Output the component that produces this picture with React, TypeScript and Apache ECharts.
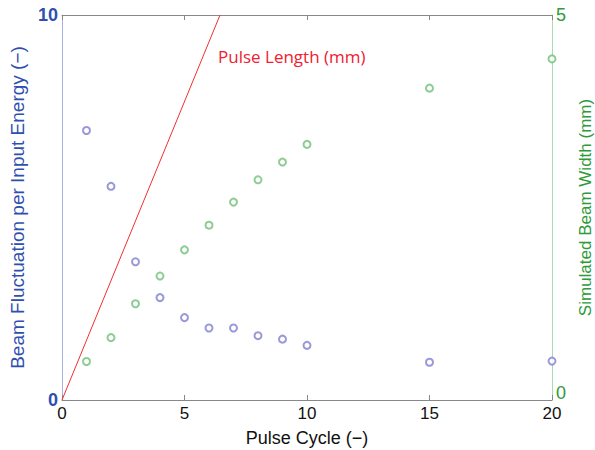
import React, { useEffect, useRef } from "react";
import * as echarts from "echarts";

const cycles = [1, 2, 3, 4, 5, 6, 7, 8, 9, 10, 15, 20];
const fluctuation = [7.0, 5.55, 3.59, 2.66, 2.14, 1.87, 1.87, 1.67, 1.58, 1.42, 0.98, 1.01];
const beamWidth = [0.5, 0.81, 1.25, 1.61, 1.95, 2.27, 2.57, 2.86, 3.09, 3.32, 4.05, 4.43];
const pulseLength: [number, number][] = [[0, 0], [6.45, 10]];

export default function App() {
  const ref = useRef<HTMLDivElement>(null);
  useEffect(() => {
    if (!ref.current) return;
    const chart = echarts.init(ref.current, undefined, { renderer: "svg" });
    const font = "Liberation Sans, Arial, sans-serif";
    chart.setOption({
      animation: false,
      backgroundColor: "#ffffff",
      grid: { left: 62, right: 43, top: 15, bottom: 50, containLabel: false, outerBoundsMode: "none" },
      xAxis: [
        {
          type: "value",
          min: 0,
          max: 20,
          interval: 5,
          position: "bottom",
          name: "Pulse Cycle (\u2212)",
          nameLocation: "middle",
          nameGap: 29,
          nameTextStyle: { color: "#111", fontSize: 18, fontFamily: font },
          axisLine: { show: true, onZero: false, lineStyle: { color: "#888", width: 1 } },
          axisTick: { show: true, inside: true, length: 5, lineStyle: { color: "#888" } },
          axisLabel: { color: "#111", fontSize: 17, fontFamily: font, margin: 5 },
          splitLine: { show: false },
        },
        {
          type: "value",
          min: 0,
          max: 20,
          interval: 5,
          position: "top",
          axisLine: { show: true, onZero: false, lineStyle: { color: "#888", width: 1 } },
          axisTick: { show: true, inside: true, length: 5, lineStyle: { color: "#888" } },
          axisLabel: { show: false },
          splitLine: { show: false },
        },
      ],
      yAxis: [
        {
          type: "value",
          min: 0,
          max: 10,
          interval: 10,
          position: "left",
          name: "Beam Fluctuation per Input Energy (\u2212)",
          nameLocation: "middle",
          nameGap: 27,
          nameTextStyle: { color: "#2f4fb0", fontSize: 19, fontFamily: font },
          axisLine: { show: true, onZero: false, lineStyle: { color: "#a8b0e8", width: 1 } },
          axisTick: { show: false },
          axisLabel: { color: "#2f4fb0", fontSize: 18, fontWeight: "bold", fontFamily: font, margin: 4 },
          splitLine: { show: false },
        },
        {
          type: "value",
          min: 0,
          max: 5,
          interval: 5,
          position: "right",
          name: "Simulated Beam Width (mm)",
          nameLocation: "middle",
          nameGap: 20,
          nameRotate: 90,
          nameTextStyle: { color: "#2e9a3a", fontSize: 17, fontFamily: font },
          axisLine: { show: true, onZero: false, lineStyle: { color: "#a8dcb0", width: 1 } },
          axisTick: { show: false },
          axisLabel: {
            color: "#2e9a3a",
            fontSize: 18,
            fontFamily: font,
            margin: 4,
            formatter: (v: number) => (v === 0 ? "{z|0}" : "{f|" + v + "}"),
            rich: {
              z: { color: "#2e9a3a", fontSize: 18, fontFamily: font, padding: [0, 0, 14, 0] },
              f: { color: "#2e9a3a", fontSize: 18, fontFamily: font },
            },
          },
          splitLine: { show: false },
        },
      ],
      series: [
        {
          type: "line",
          xAxisIndex: 0,
          yAxisIndex: 0,
          data: pulseLength,
          symbol: "none",
          lineStyle: { color: "#f03030", width: 1 },
          silent: true,
        },
        {
          type: "scatter",
          xAxisIndex: 0,
          yAxisIndex: 0,
          data: cycles.map((c, i) => [c, fluctuation[i]]),
          symbol: "emptyCircle",
          symbolSize: 7,
          itemStyle: { color: "#8080d0", borderColor: "#8080d0", borderWidth: 1.3 },
        },
        {
          type: "scatter",
          xAxisIndex: 0,
          yAxisIndex: 1,
          data: cycles.map((c, i) => [c, beamWidth[i]]),
          symbol: "emptyCircle",
          symbolSize: 7,
          itemStyle: { color: "#70c078", borderColor: "#70c078", borderWidth: 1.3 },
        },
      ],
      graphic: [
        {
          type: "text",
          left: 218,
          top: 48,
          style: { text: "Pulse Length (mm)", fill: "#f02030", fontSize: 17, fontFamily: "Open Sans, Liberation Sans, sans-serif" },
        },
      ],
    });
    return () => chart.dispose();
  }, []);
  return <div ref={ref} style={{ width: 595, height: 450, position: "absolute", left: 0, top: 0 }} />;
}
